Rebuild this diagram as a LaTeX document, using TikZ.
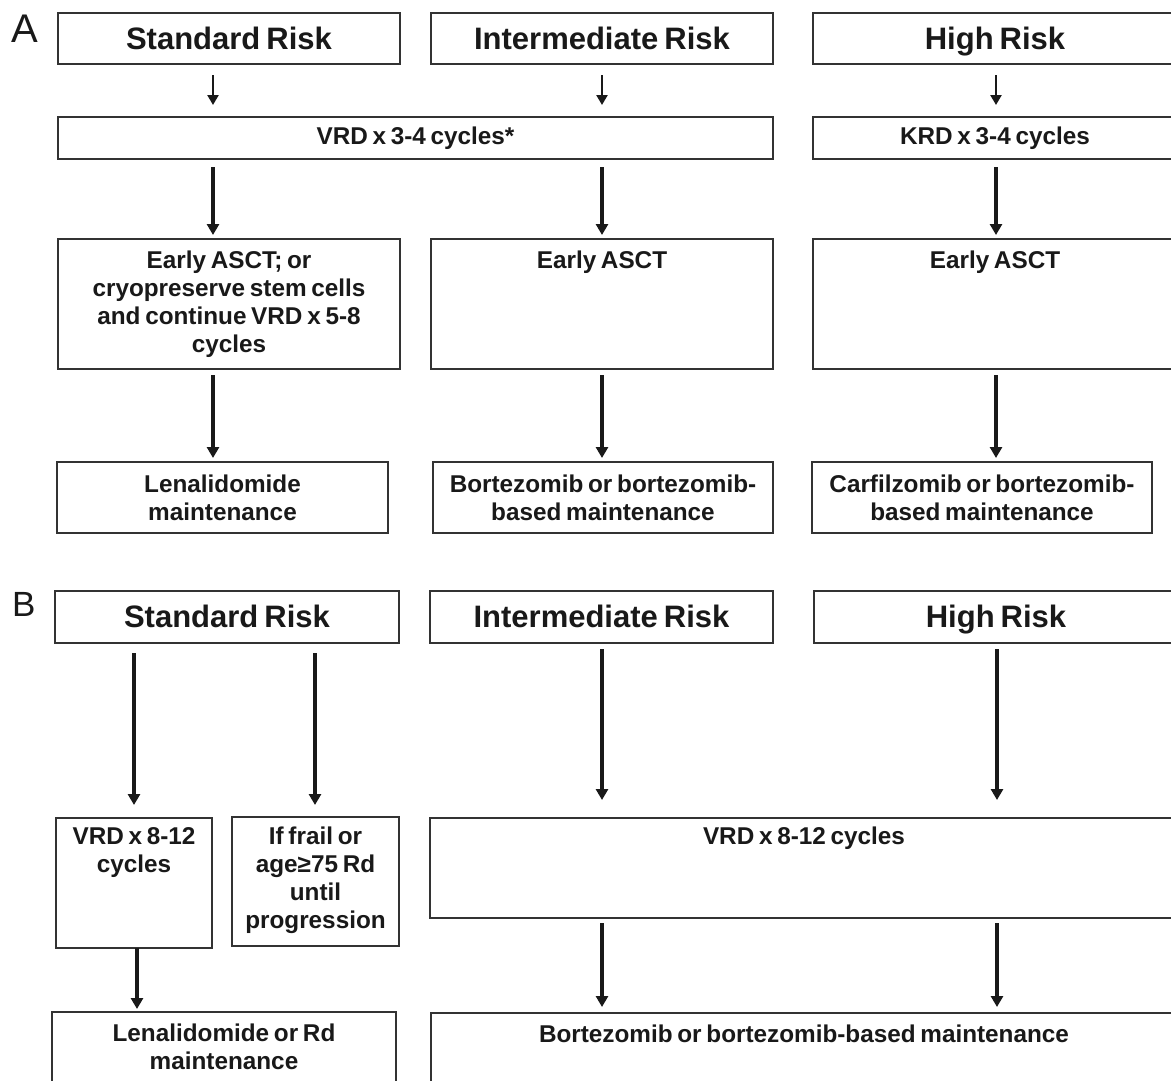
\documentclass[tikz,border=0pt]{standalone}
\usepackage{fontspec}
\setmainfont{Liberation Sans}[WordSpace=0.7]
\usetikzlibrary{arrows.meta}
\begin{document}
\begin{tikzpicture}[x=1pt,y=-1pt,
  box/.style={draw=black!80, line width=1.5pt, inner sep=0pt, outer sep=0pt, anchor=north west},
  hdr/.style={font=\fontsize{31}{34}\selectfont\bfseries, inner sep=0pt, text=black!90, anchor=base},
  txt/.style={font=\fontsize{24.3}{28}\selectfont\bfseries, inner sep=0pt, align=center, text=black!90},
  panel/.style={font=\fontsize{40}{44}\selectfont, inner sep=0pt, text=black!90},
  sarr/.style={line width=2.4pt, draw=black!90, -{Triangle[width=11pt,length=10pt]}},
  arr/.style={line width=3.2pt, draw=black!90, -{Triangle[width=12pt,length=11pt]}}]
\useasboundingbox (0,0) rectangle (1171,1080);
\fill[white] (0,0) rectangle (1171,1080);
\clip (0,0) rectangle (1171,1080);

% column x positions for arrows
\coordinate (xa) at (213,0);
\coordinate (xb) at (602,0);
\coordinate (xc) at (996,0);
\coordinate (xd) at (134,0);
\coordinate (xe) at (315,0);
\coordinate (xf) at (137,0);
\coordinate (xg) at (997,0);

% panel labels
\node[panel, anchor=north west] (labA) at (11,15) {A};
\node[panel, anchor=north west, font=\fontsize{35}{40}\selectfont] (labB) at (12,592) {B};

% ---------- Panel A ----------
\node[box, minimum width=342pt, minimum height=51pt] (stdA) at (58,13) {};
\node[box, minimum width=342pt, minimum height=51pt] (intA) at (431,13) {};
\node[box, minimum width=364pt, minimum height=51pt] (highA) at (813,13) {};
\node[hdr] at ([yshift=15pt]stdA.south) {Standard Risk};
\node[hdr] at ([yshift=15pt]intA.south) {Intermediate Risk};
\node[hdr] at ([yshift=15pt]highA.south) {High Risk};

\node[box, minimum width=715pt, minimum height=42pt] (vrdA) at (58,117) {};
\node[box, minimum width=364pt, minimum height=42pt] (krdA) at (813,117) {};
\node[txt] at (vrdA.center) {VRD x 3-4 cycles*};
\node[txt] at (krdA.center) {KRD x 3-4 cycles};

\node[box, minimum width=342pt, minimum height=130pt] (e1) at (58,239) {};
\node[box, minimum width=342pt, minimum height=130pt] (e2) at (431,239) {};
\node[box, minimum width=364pt, minimum height=130pt] (e3) at (813,239) {};
\node[txt, anchor=north] at ([yshift=-12pt]e1.north) {Early ASCT; or\\cryopreserve stem cells\\and continue VRD x 5-8\\cycles};
\node[txt, anchor=north] at ([yshift=-12pt]e2.north) {Early ASCT};
\node[txt, anchor=north] at ([yshift=-12pt]e3.north) {Early ASCT};

\node[box, minimum width=331pt, minimum height=71pt] (m1) at (57,462) {};
\node[box, minimum width=340pt, minimum height=71pt] (m2) at (433,462) {};
\node[box, minimum width=340pt, minimum height=71pt] (m3) at (812,462) {};
\node[txt] at (m1.center) {Lenalidomide\\maintenance};
\node[txt] at (m2.center) {Bortezomib or bortezomib-\\based maintenance};
\node[txt] at (m3.center) {Carfilzomib or bortezomib-\\based maintenance};

\draw[sarr] ([yshift=-11pt]stdA.south -| xa) -- ([yshift=12pt]vrdA.north -| xa);
\draw[sarr] ([yshift=-11pt]intA.south -| xb) -- ([yshift=12pt]vrdA.north -| xb);
\draw[sarr] ([yshift=-11pt]highA.south -| xc) -- ([yshift=12pt]krdA.north -| xc);
\draw[arr] ([yshift=-8pt]vrdA.south -| xa) -- ([yshift=4pt]e1.north -| xa);
\draw[arr] ([yshift=-8pt]vrdA.south -| xb) -- ([yshift=4pt]e2.north -| xb);
\draw[arr] ([yshift=-8pt]krdA.south -| xc) -- ([yshift=4pt]e3.north -| xc);
\draw[arr] ([yshift=-6pt]e1.south -| xa) -- ([yshift=4pt]m1.north -| xa);
\draw[arr] ([yshift=-6pt]e2.south -| xb) -- ([yshift=4pt]m2.north -| xb);
\draw[arr] ([yshift=-6pt]e3.south -| xc) -- ([yshift=4pt]m3.north -| xc);

% ---------- Panel B ----------
\node[box, minimum width=344pt, minimum height=52pt] (stdB) at (55,591) {};
\node[box, minimum width=343pt, minimum height=52pt] (intB) at (430,591) {};
\node[box, minimum width=364pt, minimum height=52pt] (highB) at (814,591) {};
\node[hdr] at ([yshift=16pt]stdB.south) {Standard Risk};
\node[hdr] at ([yshift=16pt]intB.south) {Intermediate Risk};
\node[hdr] at ([yshift=16pt]highB.south) {High Risk};

\node[box, minimum width=156pt, minimum height=130pt] (v1) at (56,818) {};
\node[box, minimum width=167pt, minimum height=129pt] (fr) at (232,817) {};
\node[box, minimum width=748pt, minimum height=100pt] (v2) at (430,818) {};
\node[txt, anchor=north] at ([yshift=-9pt]v1.north) {VRD x 8-12\\cycles};
\node[txt, anchor=north] at ([yshift=-10pt]fr.north) {If frail or\\age≥75 Rd\\until\\progression};
\node[txt, anchor=north] at ([yshift=-9pt]v2.north) {VRD x 8-12 cycles};

\node[box, minimum width=344pt, minimum height=90pt] (lB) at (52,1012) {};
\node[box, minimum width=746pt, minimum height=90pt] (bB) at (431,1013) {};
\node[txt, anchor=north] at ([yshift=-12pt]lB.north) {Lenalidomide or Rd\\maintenance};
\node[txt, anchor=north] at ([yshift=-12pt]bB.north) {Bortezomib or bortezomib-based maintenance};

\draw[arr] ([yshift=-10pt]stdB.south -| xd) -- ([yshift=13pt]v1.north -| xd);
\draw[arr] ([yshift=-10pt]stdB.south -| xe) -- ([yshift=12pt]fr.north -| xe);
\draw[arr] ([yshift=-6pt]intB.south -| xb) -- ([yshift=18pt]v2.north -| xb);
\draw[arr] ([yshift=-6pt]highB.south -| xg) -- ([yshift=18pt]v2.north -| xg);
\draw[arr] (v1.south -| xf) -- ([yshift=3pt]lB.north -| xf);
\draw[arr] ([yshift=-5pt]v2.south -| xb) -- ([yshift=6pt]bB.north -| xb);
\draw[arr] ([yshift=-5pt]v2.south -| xg) -- ([yshift=6pt]bB.north -| xg);
\end{tikzpicture}
\end{document}
